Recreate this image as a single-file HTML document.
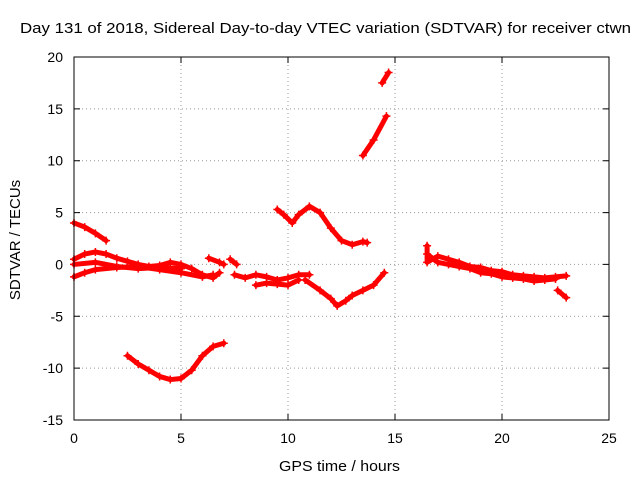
<!DOCTYPE html>
<html><head><meta charset="utf-8"><style>
body{margin:0;background:#fff;}
svg{display:block;font-family:"Liberation Sans",sans-serif;}
</style></head><body>
<svg id="chart" width="640" height="480">
<text x="20" y="33" font-size="15" textLength="611" lengthAdjust="spacingAndGlyphs">Day 131 of 2018, Sidereal Day-to-day VTEC variation (SDTVAR) for receiver ctwn</text>
<text x="279" y="471" font-size="15" textLength="121" lengthAdjust="spacingAndGlyphs">GPS time / hours</text>
<text x="20" y="240" text-anchor="middle" font-size="15" transform="rotate(-90 20 240)">SDTVAR / TECUs</text>
<g id="grid"></g><g id="axes"></g><g id="marks"></g>
<rect x="74" y="57" width="535" height="363" fill="none" stroke="#000" stroke-width="1"/>
</svg>
<script>
const xTicks=[0,5,10,15,20,25];
const yTicks=[-15,-10,-5,0,5,10,15,20];
const s1=[[0,4],[0.5,3.6],[1,3.0],[1.5,2.3]];
const s2=[[0,0.5],[0.5,1.0],[1,1.2],[1.5,1.0],[2,0.6],[2.5,0.3],[3,0.0],[3.5,-0.2],[4,-0.1],[4.5,0.2],[5,0],[5.5,-0.4],[6,-1.0],[6.5,-1.3],[6.8,-0.8]];
const s3=[[0,-1.2],[0.5,-0.8],[1,-0.5],[2,-0.3],[3,-0.2],[4,-0.5],[5,-0.8],[6,-1.2],[6.5,-1.0]];
const s3b=[[0,0],[1,0.2],[2,-0.2],[3,-0.4],[4,-0.3],[5,-0.4]];
const s4=[[6.3,0.6],[6.8,0.2],[7.0,0.0]];
const s5=[[7.3,0.5],[7.6,0.0]];
const s6=[[7.5,-1.0],[8,-1.3],[8.5,-1.0],[9,-1.2],[9.5,-1.5],[10,-1.3],[10.5,-1.0],[11,-1.0]];
const s7=[[8.5,-2.0],[9,-1.8],[9.5,-1.9],[10,-2.0],[10.5,-1.5]];
const s8=[[9.5,5.3],[9.8,4.8],[10.2,4.0],[10.5,4.8],[11,5.6],[11.5,5.0],[12,3.5],[12.5,2.3],[13,1.9],[13.5,2.2],[13.7,2.1]];
const s9=[[10.8,-1.5],[11.5,-2.5],[12,-3.3],[12.3,-4.0],[12.7,-3.5],[13,-3.0],[13.5,-2.5],[14,-2.0],[14.5,-0.8]];
const s10=[[13.5,10.5],[14,12],[14.6,14.3]];
const s11=[[14.4,17.5],[14.7,18.5]];
const s12=[[2.5,-8.8],[3,-9.6],[3.5,-10.2],[4,-10.8],[4.5,-11.1],[5,-11.0],[5.5,-10.2],[6,-8.8],[6.5,-7.9],[7,-7.6]];
const s13=[[16.5,1.8],[16.5,0.2],[17,0.8],[17.5,0.5],[18,0.2],[18.5,-0.2],[19,-0.3],[19.5,-0.6],[20,-0.7],[20.5,-1.0],[21,-1.1],[21.5,-1.2],[22,-1.3],[22.5,-1.2],[23,-1.1]];
const s13b=[[16.5,1.0],[17,0.2],[17.5,0.0],[18,-0.2],[18.5,-0.4],[19,-0.8],[19.5,-0.9],[20,-1.2],[20.5,-1.3],[21,-1.4],[21.5,-1.6],[22,-1.5],[22.5,-1.4]];
const s14=[[22.6,-2.5],[23,-3.2]];
const seriesList=[s1,s2,s3,s3b,s4,s5,s6,s7,s8,s9,s10,s11,s12,s13,s13b,s14];
const NS="http://www.w3.org/2000/svg";
const X=v=>74+v*535/25, Y=v=>57+(20-v)*363/35;
const grid=document.getElementById('grid'),axes=document.getElementById('axes'),marks=document.getElementById('marks');
function mk(tag,attrs,parent){const e=document.createElementNS(NS,tag);for(const k in attrs)e.setAttribute(k,attrs[k]);parent.appendChild(e);return e;}
xTicks.forEach(t=>{const x=X(t);
 if(t>0&&t<25){const g=mk('line',{x1:x,x2:x,y1:57,y2:420,stroke:'#999','stroke-dasharray':'1,3'},grid);}
 const tk=mk('path',{d:`M${x},420v-6M${x},57v6`,stroke:'#000'},axes);
 const l=mk('text',{x:x,y:443,'text-anchor':'middle','font-size':14},axes);l.textContent=t;});
yTicks.forEach(t=>{const y=Y(t);
 if(t>-15&&t<20){const g=mk('line',{x1:74,x2:609,y1:y,y2:y,stroke:'#999','stroke-dasharray':'1,3'},grid);}
 const tk=mk('path',{d:`M74,${y}h6M609,${y}h-6`,stroke:'#000'},axes);
 const l=mk('text',{x:63,y:y+5,'text-anchor':'end','font-size':14},axes);l.textContent=t;});
seriesList.forEach((s,i)=>{
 const p=mk('polyline',{points:s.map(d=>X(d[0])+','+Y(d[1])).join(' '),fill:'none',stroke:'#f00','stroke-width':5,'stroke-linejoin':'round','stroke-linecap':'round'},marks);
 
 
 s.forEach(d=>{const m=mk('path',{d:`M${X(d[0])-4},${Y(d[1])}h8M${X(d[0])},${Y(d[1])-4}v8`,stroke:'#f00','stroke-width':1.5},marks);
  
  });
});
</script>
</body></html>
